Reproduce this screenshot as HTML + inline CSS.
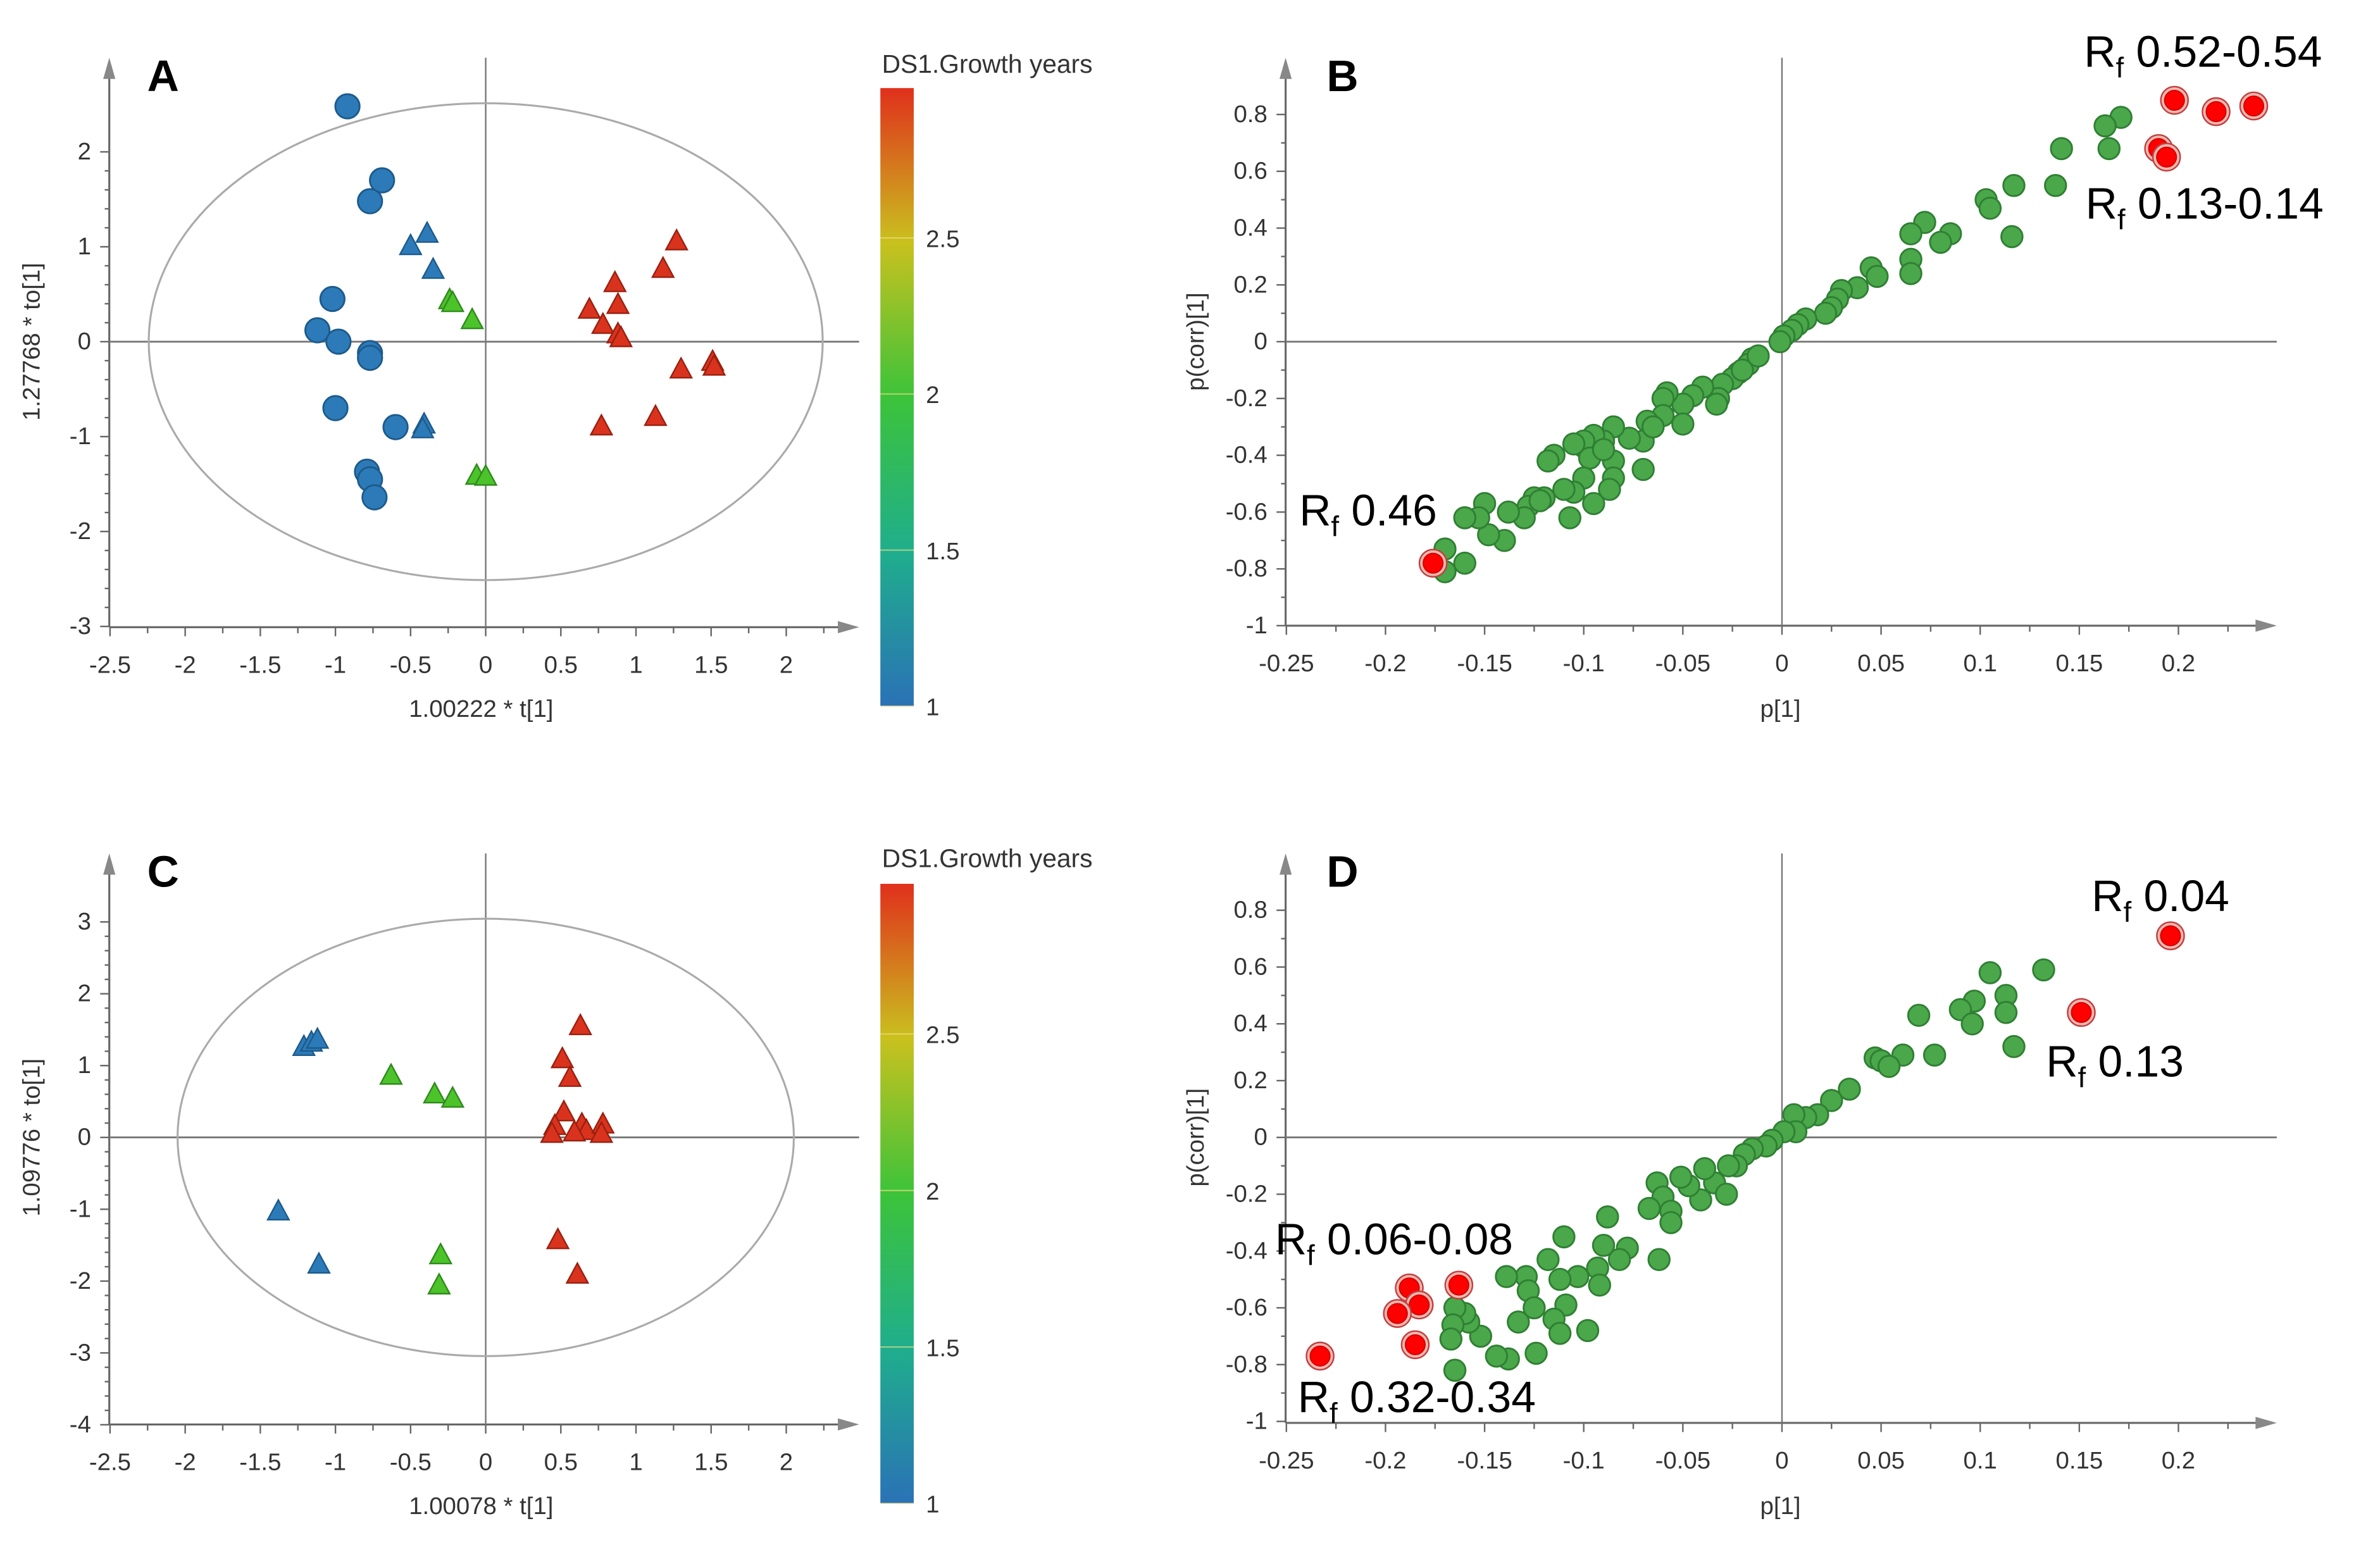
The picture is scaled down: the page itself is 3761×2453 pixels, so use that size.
<!DOCTYPE html>
<html><head><meta charset="utf-8">
<style>
html,body{margin:0;padding:0;background:#fff;}
svg{display:block;}
text{font-family:"Liberation Sans",sans-serif;}
</style></head>
<body>
<svg id="fig" width="3761" height="2453" viewBox="0 0 1568 1022" preserveAspectRatio="none" xmlns="http://www.w3.org/2000/svg">
<defs>
<linearGradient id="cbar" x1="0" y1="1" x2="0" y2="0">
<stop offset="0" stop-color="#2a72b6"/>
<stop offset="0.25" stop-color="#1fae8c"/>
<stop offset="0.5" stop-color="#3cc33a"/>
<stop offset="0.75" stop-color="#c9c11e"/>
<stop offset="1" stop-color="#e0301c"/>
</linearGradient>
</defs>
</svg>
<script>
// ---------- DATA ----------
const aBlueCircles = [[-0.92,2.48],[-0.69,1.7],[-0.77,1.48],[-1.02,0.45],[-1.12,0.12],[-0.98,0.0],[-0.77,-0.12],[-0.77,-0.17],[-1.0,-0.7],[-0.6,-0.9],[-0.79,-1.37],[-0.77,-1.45],[-0.74,-1.64]];
const aBlueTri = [[-0.39,1.13],[-0.5,1.0],[-0.35,0.75],[-0.41,-0.88],[-0.42,-0.93]];
const aGreenTri = [[-0.24,0.43],[-0.22,0.4],[-0.09,0.22],[-0.06,-1.42],[0.0,-1.43]];
const aRedTri = [[1.27,1.05],[1.18,0.76],[0.86,0.61],[0.88,0.38],[0.69,0.33],[0.78,0.17],[0.88,0.07],[0.9,0.03],[1.3,-0.3],[1.51,-0.22],[1.52,-0.27],[0.77,-0.9],[1.13,-0.8]];
const cBlueTri = [[-1.21,1.25],[-1.16,1.31],[-1.12,1.35],[-1.38,-1.04],[-1.11,-1.78]];
const cGreenTri = [[-0.63,0.85],[-0.34,0.59],[-0.22,0.53],[-0.3,-1.65],[-0.31,-2.07]];
const cRedTri = [[0.63,1.54],[0.51,1.08],[0.56,0.82],[0.52,0.34],[0.46,0.15],[0.44,0.04],[0.64,0.17],[0.67,0.08],[0.78,0.17],[0.77,0.04],[0.59,0.06],[0.48,-1.44],[0.61,-1.92]];
const bGreen = [[0.171,0.79],[0.163,0.76],[0.165,0.68],[0.141,0.68],[0.138,0.55],[0.117,0.55],[0.103,0.5],[0.105,0.47],[0.116,0.37],[0.072,0.42],[0.065,0.38],[0.085,0.38],[0.08,0.35],[0.065,0.29],[0.065,0.24],[0.045,0.26],[0.048,0.23],[0.038,0.19],[0.03,0.18],[0.028,0.15],[0.025,0.12],[0.022,0.1],[0.012,0.08],[0.008,0.06],[0.005,0.04],[0.001,0.02],[-0.001,0.0],[-0.015,-0.06],[-0.017,-0.08],[-0.022,-0.11],[-0.025,-0.13],[-0.03,-0.15],[-0.032,-0.2],[-0.033,-0.22],[-0.04,-0.16],[-0.045,-0.19],[-0.05,-0.22],[-0.058,-0.18],[-0.06,-0.2],[-0.06,-0.26],[-0.05,-0.29],[-0.068,-0.28],[-0.07,-0.35],[-0.07,-0.45],[-0.077,-0.34],[-0.085,-0.3],[-0.09,-0.35],[-0.095,-0.33],[-0.1,-0.37],[-0.1,-0.35],[-0.105,-0.36],[-0.085,-0.42],[-0.085,-0.48],[-0.087,-0.52],[-0.097,-0.41],[-0.1,-0.48],[-0.105,-0.53],[-0.115,-0.4],[-0.118,-0.42],[-0.11,-0.52],[-0.095,-0.57],[-0.107,-0.62],[-0.12,-0.55],[-0.125,-0.55],[-0.128,-0.58],[-0.13,-0.62],[-0.138,-0.6],[-0.14,-0.7],[-0.148,-0.68],[-0.15,-0.57],[-0.153,-0.62],[-0.16,-0.62],[-0.16,-0.78],[-0.17,-0.73],[-0.17,-0.81],[-0.122,-0.56],[-0.09,-0.38],[-0.065,-0.3],[-0.02,-0.1],[-0.012,-0.05]];
const bRed = [[0.198,0.85],[0.219,0.81],[0.238,0.83],[0.19,0.68],[0.194,0.65],[-0.176,-0.78]];
const dGreen = [[0.132,0.59],[0.105,0.58],[0.113,0.5],[0.097,0.48],[0.09,0.45],[0.113,0.44],[0.069,0.43],[0.096,0.4],[0.117,0.32],[0.077,0.29],[0.061,0.29],[0.047,0.28],[0.05,0.27],[0.054,0.25],[0.034,0.17],[0.025,0.13],[0.018,0.08],[0.012,0.07],[0.006,0.08],[0.007,0.02],[0.001,0.02],[-0.005,-0.01],[-0.008,-0.03],[-0.015,-0.04],[-0.019,-0.06],[-0.023,-0.1],[-0.027,-0.1],[-0.034,-0.16],[-0.028,-0.2],[-0.039,-0.11],[-0.041,-0.22],[-0.047,-0.17],[-0.051,-0.14],[-0.063,-0.16],[-0.06,-0.21],[-0.067,-0.25],[-0.056,-0.26],[-0.056,-0.3],[-0.062,-0.43],[-0.088,-0.28],[-0.078,-0.39],[-0.09,-0.38],[-0.082,-0.43],[-0.093,-0.46],[-0.092,-0.52],[-0.103,-0.49],[-0.11,-0.35],[-0.118,-0.43],[-0.112,-0.5],[-0.109,-0.59],[-0.115,-0.64],[-0.112,-0.69],[-0.098,-0.68],[-0.129,-0.49],[-0.139,-0.49],[-0.128,-0.54],[-0.125,-0.6],[-0.133,-0.65],[-0.124,-0.76],[-0.138,-0.78],[-0.144,-0.77],[-0.152,-0.7],[-0.158,-0.65],[-0.16,-0.62],[-0.165,-0.6],[-0.166,-0.66],[-0.167,-0.71],[-0.165,-0.82]];
const dRed = [[0.196,0.71],[0.151,0.44],[-0.163,-0.52],[-0.188,-0.53],[-0.183,-0.59],[-0.194,-0.62],[-0.185,-0.73],[-0.233,-0.77]];
const scoreXTicks = ["-2.5","-2","-1.5","-1","-0.5","0","0.5","1","1.5","2"];
const aYTicks = ["2","1","0","-1","-2","-3"];
const cYTicks = ["3","2","1","0","-1","-2","-3","-4"];
const loadXTicks = ["-0.25","-0.2","-0.15","-0.1","-0.05","0","0.05","0.1","0.15","0.2"];
const loadYTicks = ["0.8","0.6","0.4","0.2","0","-0.2","-0.4","-0.6","-0.8","-1"];
const cbarTicks = ["2.5","2","1.5","1"];

// ---------- DRAW ----------
const svg = document.getElementById('fig');
const NS = 'http://www.w3.org/2000/svg';
function mk(tag, attrs, parent){
  const e = document.createElementNS(NS, tag);
  for (const k in attrs) e.setAttribute(k, attrs[k]);
  (parent||svg).appendChild(e);
  return e;
}
function txt(s, x, y, size, anchor, parent, extra){
  const t = mk('text', Object.assign({x:x, y:y, 'font-size':size, 'text-anchor':anchor||'middle', fill:'#333'}, extra||{}), parent);
  t.textContent = s;
  return t;
}

function panel(cfg){
  const g = mk('g', {});
  
  
  const sx = v => cfg.x0 + (v - cfg.xv0) * cfg.xk;
  const sy = v => cfg.y0 - (v - cfg.yv0) * cfg.yk;
  const xr = cfg.xRight, yb = cfg.yBottom, xl = cfg.xLeft, yt = cfg.yTop;
  const ax = mk('g', {}, g);
  
  
  mk('line', {x1:xl, y1:yb, x2:xr-10, y2:yb, stroke:'#666', 'stroke-width':1.3}, ax);
  mk('line', {x1:xl, y1:yb, x2:xl, y2:yt+12, stroke:'#666', 'stroke-width':1.3}, ax);
  mk('polygon', {points:`${xr},${yb} ${xr-14},${yb-4} ${xr-14},${yb+4}`, fill:'#888'}, ax);
  mk('polygon', {points:`${xl},${yt} ${xl-4},${yt+14} ${xl+4},${yt+14}`, fill:'#888'}, ax);
  const ch = mk('g', {}, g);
  
  
  mk('line', {x1:sx(0), y1:yt, x2:sx(0), y2:yb, stroke:'#777', 'stroke-width':1}, ch);
  mk('line', {x1:xl, y1:sy(0), x2:xr, y2:sy(0), stroke:'#777', 'stroke-width':1.2}, ch);
  const xt = mk('g', {}, g);
  
  
  cfg.xTicks.forEach((lab, i) => {
    const v = parseFloat(lab);
    const px = sx(v);
    mk('line', {x1:px, y1:yb, x2:px, y2:yb+6, stroke:'#666', 'stroke-width':1}, xt);
    const mpx = sx(v + cfg.xStep/2);
    if (mpx < xr - 12) mk('line', {x1:mpx, y1:yb, x2:mpx, y2:yb+4, stroke:'#666', 'stroke-width':1}, xt);
    txt(lab, px, yb+30, 16, 'middle', xt);
  });
  const ytg = mk('g', {}, g);
  
  
  cfg.yTicks.forEach(lab => {
    const v = parseFloat(lab);
    const py = sy(v);
    mk('line', {x1:xl-6, y1:py, x2:xl, y2:py, stroke:'#666', 'stroke-width':1}, ytg);
    for (let k=1;k<cfg.yMinor;k++){
      const mpy = sy(v + cfg.yStep*k/cfg.yMinor);
      if (mpy > yt + 16 && mpy < yb - 1) mk('line', {x1:xl-3, y1:mpy, x2:xl, y2:mpy, stroke:'#666', 'stroke-width':1}, ytg);
    }
    txt(lab, xl-12, py+5, 16, 'end', ytg);
  });
  const xtt = txt(cfg.xTitle, cfg.xTitleX, cfg.xTitleY, 16, 'middle', g);
  
  
  const ytt = txt(cfg.yTitle, 0, 0, 16, 'middle', g, {transform:`translate(${cfg.yTitleX},${sy(0)}) rotate(-90)`});
  
  
  const pl = mk('text', {x:cfg.letterX, y:yt+22, 'font-size':29, 'font-weight':'bold', fill:'#000'}, g);
  pl.textContent = cfg.letter;
  
  
  return {g, sx, sy};
}

function circles(p, arr, r, fill, stroke, name){
  const g = mk('g', {}, p.g);
  
  
  arr.forEach(d => {
    const c = mk('circle', {cx:p.sx(d[0]), cy:p.sy(d[1]), r:r, fill:fill, stroke:stroke, 'stroke-width':1.2}, g);
    
    
  });
}
function redRing(p, arr, name){
  const g = mk('g', {}, p.g);
  
  
  arr.forEach(d => {
    const c = mk('circle', {cx:p.sx(d[0]), cy:p.sy(d[1]), r:9, fill:'#f4b8b0', stroke:'#c04040', 'stroke-width':1}, g);
    
    
    const c2 = mk('circle', {cx:p.sx(d[0]), cy:p.sy(d[1]), r:6.5, fill:'#ff0000', stroke:'#d00000', 'stroke-width':0.8}, g);
    
    
  });
}
function tris(p, arr, fill, stroke, name){
  const g = mk('g', {}, p.g);
  
  
  arr.forEach(d => {
    const x = p.sx(d[0]), y = p.sy(d[1]);
    const t = mk('polygon', {points:`${x},${y-8} ${x-7},${y+5} ${x+7},${y+5}`, fill:fill, stroke:stroke, 'stroke-width':1}, g);
    
    
  });
}
function ellipse(p, rx, ry){
  const e = mk('ellipse', {cx:p.sx(0), cy:p.sy(0), rx:rx, ry:ry, fill:'none', stroke:'#aaa', 'stroke-width':1.3}, p.g);
  
  
}
function colorbar(x, top, bottom, vTop, titleY){
  const g = mk('g', {});
  
  
  mk('rect', {x:x, y:top, width:22, height:bottom-top, fill:'url(#cbar)'}, g);
  const k = (bottom - top) / (vTop - 1);
  cbarTicks.forEach(lab => {
    const v = parseFloat(lab);
    const py = bottom - (v - 1) * k;
    mk('line', {x1:x, y1:py, x2:x+22, y2:py, stroke:'#f4e08a', 'stroke-width':0.8, opacity:0.7}, g);
    txt(lab, x+30, py+6, 16, 'start', g);
  });
  const t = txt('DS1.Growth years', x+1, titleY, 17, 'start', g);
  
  
}
function rfLabel(p, parts, x, y, name){
  const t = mk('text', {x:x, y:y, 'font-size':29, fill:'#000'}, p.g);
  
  
  const a = mk('tspan', {}, t); a.textContent = 'R';
  const b = mk('tspan', {dy:7, 'font-size':19}, t); b.textContent = 'f';
  const c = mk('tspan', {dy:-7}, t); c.textContent = ' ' + parts;
}

const pA = panel({name:'panel-a-score-plot', letter:'A', letterX:97, x0:320, xv0:0, xk:99, y0:225, yv0:0, yk:62.5,
  xLeft:72, xRight:566, yTop:38, yBottom:413, xTicks:scoreXTicks, xStep:0.5, yTicks:aYTicks, yStep:-1, yMinor:5,
  xTitle:'1.00222 * t[1]', xTitleX:317, xTitleY:472, yTitle:'1.27768 * to[1]', yTitleX:26});
ellipse(pA, 222, 157);
tris(pA, aBlueTri, '#2c7bb8', '#1d5a8c', 'blue-triangles');
tris(pA, aGreenTri, '#4cc32a', '#2f8a1c', 'green-triangles');
tris(pA, aRedTri, '#d9331e', '#9a2010', 'red-triangles');
circles(pA, aBlueCircles, 8, '#2c7bb8', '#1d5a8c', 'blue-circles');
colorbar(580, 58, 465, 2.98, 48);

const pC = panel({name:'panel-c-score-plot', letter:'C', letterX:97, x0:320, xv0:0, xk:99, y0:749, yv0:0, yk:47.3,
  xLeft:72, xRight:566, yTop:562, yBottom:938, xTicks:scoreXTicks, xStep:0.5, yTicks:cYTicks, yStep:-1, yMinor:5,
  xTitle:'1.00078 * t[1]', xTitleX:317, xTitleY:997, yTitle:'1.09776 * to[1]', yTitleX:26});
ellipse(pC, 203, 144);
tris(pC, cBlueTri, '#2c7bb8', '#1d5a8c', 'blue-triangles');
tris(pC, cGreenTri, '#4cc32a', '#2f8a1c', 'green-triangles');
tris(pC, cRedTri, '#d9331e', '#9a2010', 'red-triangles');
colorbar(580, 582, 990, 2.98, 571);

const pB = panel({name:'panel-b-loading-plot', letter:'B', letterX:874, x0:1174, xv0:0, xk:1306, y0:225, yv0:0, yk:187,
  xLeft:847, xRight:1500, yTop:38, yBottom:412, xTicks:loadXTicks, xStep:0.05, yTicks:loadYTicks, yStep:-0.2, yMinor:2,
  xTitle:'p[1]', xTitleX:1173, xTitleY:472, yTitle:'p(corr)[1]', yTitleX:793});
circles(pB, bGreen, 7, '#4aa74a', '#2f7f33', 'green-variables');
redRing(pB, bRed, 'highlighted-variables');
rfLabel(pB, '0.52-0.54', 1373, 44, 'rf-label-052');
rfLabel(pB, '0.13-0.14', 1374, 144, 'rf-label-013');
rfLabel(pB, '0.46', 856, 346, 'rf-label-046');

const pD = panel({name:'panel-d-loading-plot', letter:'D', letterX:874, x0:1174, xv0:0, xk:1306, y0:749, yv0:0, yk:187,
  xLeft:847, xRight:1500, yTop:562, yBottom:937, xTicks:loadXTicks, xStep:0.05, yTicks:loadYTicks, yStep:-0.2, yMinor:2,
  xTitle:'p[1]', xTitleX:1173, xTitleY:997, yTitle:'p(corr)[1]', yTitleX:793});
circles(pD, dGreen, 7, '#4aa74a', '#2f7f33', 'green-variables');
redRing(pD, dRed, 'highlighted-variables');
rfLabel(pD, '0.04', 1378, 600, 'rf-label-004');
rfLabel(pD, '0.13', 1348, 709, 'rf-label-013');
rfLabel(pD, '0.06-0.08', 840, 826, 'rf-label-006');
rfLabel(pD, '0.32-0.34', 855, 930, 'rf-label-032');
</script>
</body></html>
